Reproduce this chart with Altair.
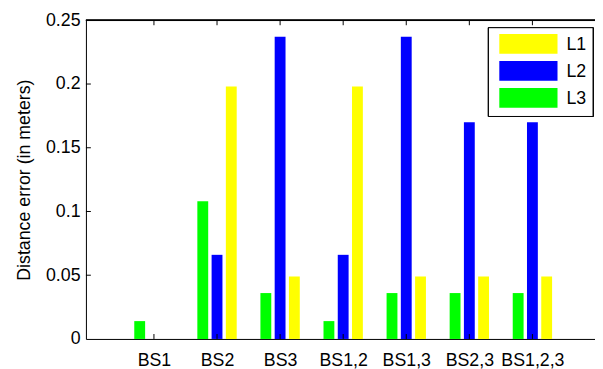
import json
import altair as alt
import pandas as pd

categories = ["BS1", "BS2", "BS3", "BS1,2", "BS1,3", "BS2,3", "BS1,2,3"]
series = ["L1", "L2", "L3"]
l1 = [0.0, 0.198, 0.049, 0.198, 0.049, 0.049, 0.049]
l2 = [0.0, 0.066, 0.237, 0.066, 0.237, 0.170, 0.170]
l3 = [0.014, 0.108, 0.036, 0.014, 0.036, 0.036, 0.036]
colors = ["#FFFF00", "#0000FF", "#00FF00"]
y_ticks = [0, 0.05, 0.1, 0.15, 0.2, 0.25]
slots = {"L3": -1, "L2": 0, "L1": 1}
Y_TITLE = "Distance error (in meters)"

rows = []
for i, c in enumerate(categories):
    for s, vals in zip(series, [l1, l2, l3]):
        rows.append({"cat": c, "pos": i + 1, "series": s, "value": vals[i], "slot": slots[s]})
df = pd.DataFrame(rows)
tick_df = pd.DataFrame({"pos": list(range(1, len(categories) + 1))})
ytick_df = pd.DataFrame({"v": y_ticks[1:-1]})
leg_df = pd.DataFrame({"series": series, "color": colors})

W, H = 516, 323
XMAX = 7.914
FONT = "Liberation Sans"
FS = 18
x_scale = alt.Scale(domain=[0, XMAX], nice=False, zero=False)
y_scale = alt.Scale(domain=[0, 0.25], nice=False)

label_expr = json.dumps(categories) + "[datum.value - 1]"

bars = alt.Chart(df).transform_calculate(
    xp="datum.pos + datum.slot * 0.226"
).mark_bar(size=11).encode(
    x=alt.X("xp:Q", scale=x_scale, title=None,
            axis=alt.Axis(values=list(range(1, 8)), labelExpr=label_expr, ticks=False,
                          tickSize=0, grid=False, domainColor="black", labelColor="black",
                          labelFontSize=FS, labelPadding=13, labelOverlap=False,
                          labelFlush=False, title=None)),
    y=alt.Y("value:Q", scale=y_scale, title=Y_TITLE,
            axis=alt.Axis(values=y_ticks, format="~g", ticks=False, tickSize=0, grid=False,
                          domainColor="black", labelColor="black", labelFontSize=FS,
                          labelPadding=6, title=Y_TITLE,
                          titleFontSize=FS, titleFontWeight="normal", titleColor="black",
                          titlePadding=12)),
    color=alt.Color("series:N", scale=alt.Scale(domain=series, range=colors), legend=None),
)

bottom_ticks = alt.Chart(tick_df).mark_rule(color="black").encode(
    x=alt.X("pos:Q", scale=x_scale, title=None),
    y=alt.value(H), y2=alt.value(H - 5))
top_ticks = alt.Chart(tick_df).mark_rule(color="black").encode(
    x=alt.X("pos:Q", scale=x_scale, title=None),
    y=alt.value(0), y2=alt.value(5))
left_ticks = alt.Chart(ytick_df).mark_rule(color="black").encode(
    y=alt.Y("v:Q", scale=y_scale, title=Y_TITLE),
    x=alt.value(0), x2=alt.value(5))
top_spine = alt.Chart(tick_df).mark_rule(color="black").encode(
    x=alt.value(0), x2=alt.value(W), y=alt.value(0))

# legend (drawn as a box with swatches and labels, rows taken from series list)
LX0, LX1, LY0, LY1 = 408, 514, 7.5, 97.5
SW_X0, SW_X1 = 419, 478
ROW0, ROWSTEP, SWH = 14, 27.3, 20
leg_box = alt.Chart(tick_df).mark_rect(fill="white", stroke="black", strokeWidth=1).encode(
    x=alt.value(LX0), x2=alt.value(LX1), y=alt.value(LY0), y2=alt.value(LY1))
leg_layers = []
for i, (s, col) in enumerate(zip(series, colors)):
    sub = leg_df[leg_df["series"] == s]
    top = ROW0 + ROWSTEP * i
    leg_layers.append(alt.Chart(sub).mark_rect(color=col).encode(
        x=alt.value(SW_X0), x2=alt.value(SW_X1), y=alt.value(top), y2=alt.value(top + SWH)))
    leg_layers.append(alt.Chart(sub).mark_text(
        align="left", baseline="middle", fontSize=FS, color="black").encode(
        x=alt.value(487), y=alt.value(top + SWH / 2 + 1), text="series:N"))

chart = alt.layer(bars, bottom_ticks, top_ticks, left_ticks, top_spine, leg_box,
                  *leg_layers).properties(
    width=W, height=H,
    autosize=alt.AutoSizeParams(type="none"),
    padding={"left": 79, "top": 10, "right": 0, "bottom": 28},
).configure_view(stroke=None).configure(font=FONT)

chart.save("out.html", embed_options={"renderer": "svg", "actions": False})
